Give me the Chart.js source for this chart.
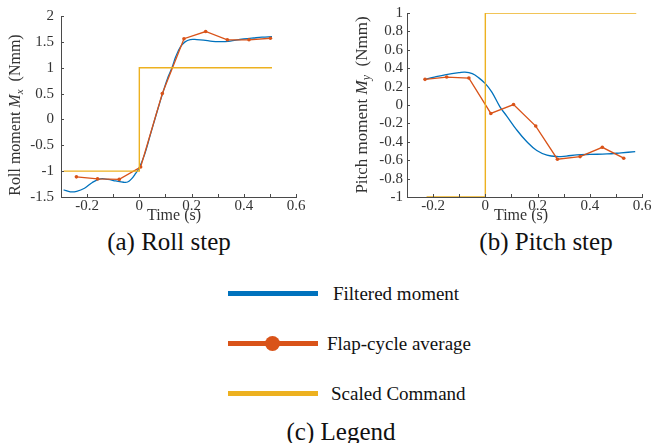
<!DOCTYPE html>
<html>
<head>
<meta charset="utf-8">
<script src="https://cdn.jsdelivr.net/npm/chart.js@4.4.1/dist/chart.umd.min.js"></script>
<style>
html,body{margin:0;padding:0;background:#fff;width:659px;height:443px;overflow:hidden;position:relative;font-family:"Liberation Serif","Times New Roman","DejaVu Serif",serif;color:#000;}
canvas{position:absolute;top:0;}
#c1{left:0;}
#c2{left:330px;}
.cap{position:absolute;font-size:25px;white-space:nowrap;transform:translate(-50%,-50%);line-height:1;color:#111;}
.lline{position:absolute;left:228px;width:90px;height:5px;margin-top:-2.5px;}
.ldot{position:absolute;width:15px;height:15px;border-radius:50%;background:#D95319;margin-left:-7.5px;margin-top:-7.5px;}
.ltext{position:absolute;font-size:19px;white-space:nowrap;transform:translateY(-50%);line-height:1;color:#111;}
</style>
</head>
<body>
<canvas id="c1" width="330" height="225"></canvas>
<canvas id="c2" width="329" height="225"></canvas>

<div class="cap" style="left:169px;top:241px">(a) Roll step</div>
<div class="cap" style="left:546px;top:241px">(b) Pitch step</div>

<div class="lline" style="top:293px;background:#0072BD"></div>
<div class="ltext" style="left:333px;top:293px">Filtered moment</div>
<div class="lline" style="top:343px;background:#D95319"></div>
<div class="ldot" style="left:272px;top:343px"></div>
<div class="ltext" style="left:327px;top:343px">Flap-cycle average</div>
<div class="lline" style="top:393px;background:#EDB120"></div>
<div class="ltext" style="left:331px;top:393px">Scaled Command</div>

<div class="cap" style="left:341px;top:431px">(c) Legend</div>

<script>
// ---------------- DATA ----------------
// Roll step
const rollFilteredT = [-0.29,-0.264,-0.24,-0.21,-0.18,-0.149,-0.12,-0.09,-0.06,-0.045,-0.03,-0.015,0,0.02,0.042,0.065,0.089,0.11,0.125,0.14,0.157,0.175,0.195,0.22,0.246,0.28,0.31,0.34,0.37,0.40,0.438,0.47,0.508];
const rollFilteredM = [-1.36,-1.40,-1.39,-1.33,-1.22,-1.15,-1.16,-1.19,-1.215,-1.21,-1.15,-1.05,-0.93,-0.68,-0.30,0.10,0.50,0.82,1.0,1.22,1.40,1.50,1.545,1.545,1.535,1.51,1.505,1.51,1.535,1.555,1.575,1.59,1.60];
const rollAvgT = [-0.241,-0.16,-0.077,0.005,0.088,0.171,0.254,0.337,0.42,0.502];
const rollAvgM = [-1.11,-1.15,-1.16,-0.92,0.50,1.56,1.70,1.54,1.54,1.57];
const rollCmdT = [-0.29,0,0,0.508];
const rollCmdM = [-1,-1,1,1];

// Pitch step
const pitchFilteredT = [-0.231,-0.2,-0.15,-0.1,-0.078,-0.05,-0.025,0,0.025,0.056,0.082,0.12,0.159,0.197,0.236,0.274,0.31,0.35,0.40,0.466,0.52,0.574];
const pitchFilteredM = [0.279,0.30,0.33,0.352,0.358,0.34,0.295,0.232,0.14,-0.02,-0.12,-0.27,-0.40,-0.495,-0.545,-0.56,-0.555,-0.543,-0.537,-0.532,-0.52,-0.507];
const pitchAvgT = [-0.231,-0.148,-0.063,0.021,0.108,0.193,0.276,0.363,0.448,0.53];
const pitchAvgM = [0.279,0.304,0.293,-0.092,0.005,-0.229,-0.589,-0.561,-0.46,-0.578];
const pitchCmdT = [-0.225,0,0,0.578];
const pitchCmdM = [-1,-1,1,1];

// Ticks
const xTickVals = [-0.3,-0.2,-0.1,0,0.1,0.2,0.3,0.4,0.5,0.6];
const xTickLabels = ['','-0.2','','0','','0.2','','0.4','','0.6'];
const rollYTickVals = [-1.5,-1,-0.5,0,0.5,1,1.5,2];
const rollYTickLabels = ['-1.5','-1','-0.5','0','0.5','1','1.5','2'];
const pitchYTickVals = [-1,-0.8,-0.6,-0.4,-0.2,0,0.2,0.4,0.6,0.8,1];
const pitchYTickLabels = ['-1','-0.8','-0.6','-0.4','-0.2','0','0.2','0.4','0.6','0.8','1'];

// ---------------- STYLE ----------------
const BLUE='#0072BD', ORANGE='#D95319', YELLOW='#EDB120';
const FONT='"Liberation Serif","Times New Roman","DejaVu Serif",serif';
const AXIS='#4a4a4a', TXT='#333333';

function pts(t,m){return t.map((v,i)=>({x:v,y:m[i]}));}

function drawRich(ctx, parts, x, y, angle){
  ctx.save();
  ctx.translate(x,y); ctx.rotate(angle);
  let total=0;
  parts.forEach(p=>{ctx.font=p.font; p.w=ctx.measureText(p.text).width; total+=p.w;});
  let cx=-total/2;
  ctx.textBaseline='alphabetic'; ctx.textAlign='left'; ctx.fillStyle=TXT;
  parts.forEach(p=>{ctx.font=p.font; ctx.fillText(p.text,cx,(p.dy||0)); cx+=p.w;});
  ctx.restore();
}

const decoPlugin = {
  id:'deco',
  afterDraw(chart, args, opts){
    const ctx=chart.ctx, a=chart.chartArea, xs=chart.scales.x, ys=chart.scales.y;
    ctx.save();
    ctx.strokeStyle=AXIS; ctx.lineWidth=1;
    xs.ticks.forEach(t=>{
      const px=Math.round(xs.getPixelForValue(t.value))+0.5;
      ctx.beginPath(); ctx.moveTo(px,a.bottom); ctx.lineTo(px,a.bottom-3); ctx.stroke();
    });
    ys.ticks.forEach(t=>{
      const py=Math.round(ys.getPixelForValue(t.value))+0.5;
      ctx.beginPath(); ctx.moveTo(a.left,py); ctx.lineTo(a.left+3,py); ctx.stroke();
    });
    ctx.restore();
    drawRich(ctx,[{text:'Time (s)',font:'16px '+FONT}],opts.xTitleX,opts.xTitleY,0);
    drawRich(ctx,opts.yTitle,opts.yTitleX,opts.yTitleY,-Math.PI/2);
  }
};

function makeChart(id, cfg){
  return new Chart(document.getElementById(id),{
    type:'line',
    data:{datasets:[
      {data:pts(cfg.cmdT,cfg.cmdM),borderColor:YELLOW,borderWidth:1.4,pointRadius:0,tension:0,order:0},
      {data:pts(cfg.avgT,cfg.avgM),borderColor:ORANGE,backgroundColor:ORANGE,borderWidth:1.3,pointRadius:1.8,pointBorderWidth:0,pointBackgroundColor:ORANGE,tension:0,order:1},
      {data:pts(cfg.filtT,cfg.filtM),borderColor:BLUE,borderWidth:1.3,pointRadius:0,tension:0.4,order:2}
    ]},
    options:{
      responsive:false, animation:false, events:[],
      layout:{padding:{left:0,top:12,right:cfg.padRight,bottom:0}},
      plugins:{legend:{display:false},tooltip:{enabled:false},
        deco:{xTitleX:cfg.xTitleX,xTitleY:220,yTitle:cfg.yTitle,yTitleX:cfg.yTitleX,yTitleY:cfg.yTitleY}},
      scales:{
        x:{type:'linear',min:-0.3,max:0.6,
          afterBuildTicks:s=>{s.ticks=xTickVals.map(v=>({value:v}));},
          afterFit:s=>{s.height=28;},
          grid:{display:false,drawTicks:false},
          border:{display:true,color:AXIS,width:1},
          ticks:{autoSkip:false,maxRotation:0,padding:0,color:TXT,font:{family:FONT,size:15},
            callback:(v,i)=>xTickLabels[i]}},
        y:{type:'linear',min:cfg.yMin,max:cfg.yMax,
          afterBuildTicks:s=>{s.ticks=cfg.yVals.map(v=>({value:v}));},
          afterFit:s=>{s.width=cfg.yWidth;},
          grid:{display:false,drawTicks:false},
          border:{display:true,color:AXIS,width:1},
          ticks:{autoSkip:false,padding:cfg.yPad,color:TXT,font:{family:FONT,size:15},
            callback:(v,i)=>cfg.yLabels[i]}}
      }
    },
    plugins:[decoPlugin]
  });
}

makeChart('c1',{
  cmdT:rollCmdT,cmdM:rollCmdM,avgT:rollAvgT,avgM:rollAvgM,filtT:rollFilteredT,filtM:rollFilteredM,
  yMin:-1.5,yMax:2,yVals:rollYTickVals,yLabels:rollYTickLabels,
  yWidth:61,yPad:7,padRight:34,xTitleX:174,yTitleX:20,yTitleY:115,
  yTitle:[{text:'Roll moment ',font:'16px '+FONT},{text:'M',font:'italic 16px '+FONT},
          {text:'x',font:'italic 11px '+FONT,dy:3},{text:'  (Nmm)',font:'16px '+FONT}]
});
makeChart('c2',{
  cmdT:pitchCmdT,cmdM:pitchCmdM,avgT:pitchAvgT,avgM:pitchAvgM,filtT:pitchFilteredT,filtM:pitchFilteredM,
  yMin:-1,yMax:1,yVals:pitchYTickVals,yLabels:pitchYTickLabels,
  yWidth:77,yPad:4,padRight:17,xTitleX:191,yTitleX:37,yTitleY:105,
  yTitle:[{text:'Pitch moment ',font:'17px '+FONT},{text:'M',font:'italic 17px '+FONT},
          {text:'y',font:'italic 12px '+FONT,dy:3},{text:'  (Nmm)',font:'17px '+FONT}]
});
</script>
</body>
</html>
